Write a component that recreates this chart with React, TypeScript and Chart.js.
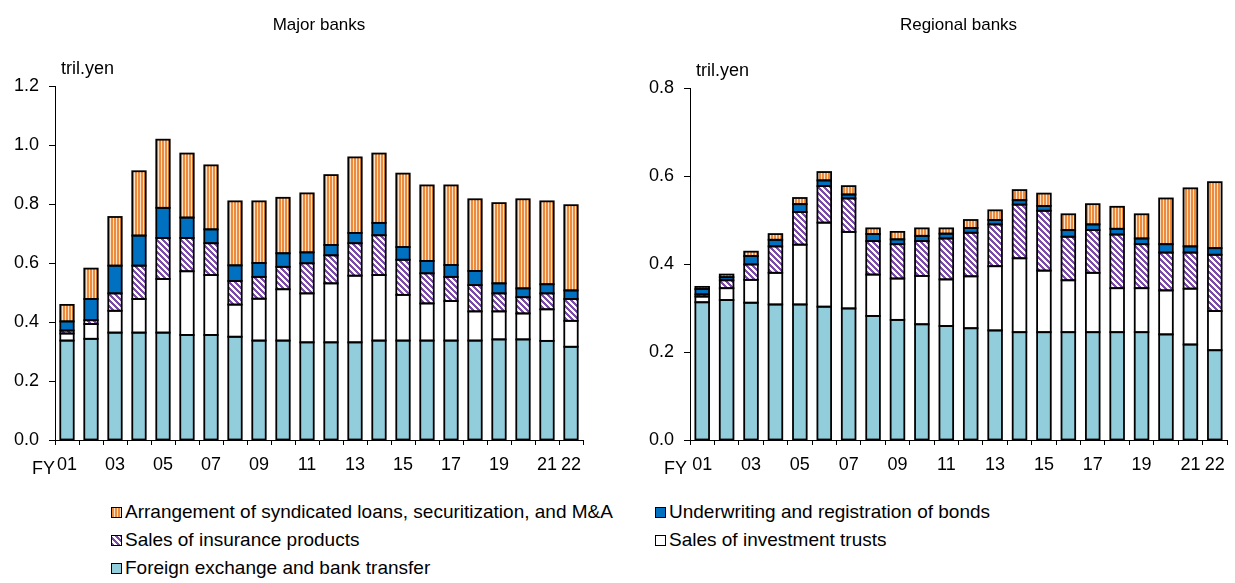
import React, { useEffect, useRef } from 'react';
import { Chart, registerables } from 'chart.js';

Chart.register(...registerables);

// ---------- data ----------
const years = ['01', '02', '03', '04', '05', '06', '07', '08', '09', '10', '11', '12', '13', '14', '15', '16', '17', '18', '19', '20', '21', '22'];
const shownYearLabels = ['01', '03', '05', '07', '09', '11', '13', '15', '17', '19', '21', '22'];

const seriesNames = [
  'Foreign exchange and bank transfer',
  'Sales of investment trusts',
  'Sales of insurance products',
  'Underwriting and registration of bonds',
  'Arrangement of syndicated loans, securitization, and M&A',
];

// Major banks (tril. yen)
const majorForeign = [0.337, 0.343, 0.364, 0.364, 0.364, 0.356, 0.356, 0.350, 0.337, 0.337, 0.331, 0.331, 0.331, 0.337, 0.337, 0.337, 0.337, 0.337, 0.341, 0.341, 0.336, 0.316];
const majorTrusts = [0.024, 0.050, 0.074, 0.114, 0.182, 0.216, 0.203, 0.109, 0.142, 0.174, 0.166, 0.200, 0.226, 0.222, 0.155, 0.126, 0.134, 0.099, 0.095, 0.088, 0.107, 0.088];
const majorInsurance = [0.010, 0.013, 0.059, 0.113, 0.139, 0.113, 0.108, 0.080, 0.074, 0.076, 0.102, 0.095, 0.110, 0.135, 0.119, 0.102, 0.082, 0.089, 0.061, 0.055, 0.054, 0.074];
const majorBonds = [0.031, 0.072, 0.094, 0.102, 0.102, 0.069, 0.047, 0.053, 0.047, 0.046, 0.037, 0.035, 0.035, 0.042, 0.043, 0.042, 0.040, 0.048, 0.034, 0.030, 0.031, 0.029];
const majorArrangement = [0.056, 0.103, 0.165, 0.218, 0.231, 0.217, 0.217, 0.217, 0.209, 0.188, 0.200, 0.237, 0.256, 0.235, 0.249, 0.256, 0.270, 0.243, 0.272, 0.302, 0.281, 0.289];

// Regional banks (tril. yen)
const regionalForeign = [0.313, 0.318, 0.312, 0.308, 0.308, 0.303, 0.299, 0.282, 0.273, 0.263, 0.259, 0.254, 0.249, 0.245, 0.245, 0.245, 0.245, 0.245, 0.245, 0.240, 0.217, 0.204];
const regionalTrusts = [0.013, 0.027, 0.052, 0.072, 0.136, 0.191, 0.174, 0.094, 0.094, 0.110, 0.106, 0.118, 0.146, 0.168, 0.140, 0.118, 0.135, 0.100, 0.100, 0.100, 0.127, 0.089];
const regionalInsurance = [0.005, 0.018, 0.035, 0.060, 0.074, 0.083, 0.076, 0.076, 0.078, 0.079, 0.093, 0.099, 0.095, 0.122, 0.136, 0.099, 0.097, 0.122, 0.100, 0.086, 0.082, 0.128];
const regionalBonds = [0.012, 0.007, 0.019, 0.015, 0.018, 0.013, 0.009, 0.016, 0.011, 0.012, 0.011, 0.011, 0.010, 0.010, 0.011, 0.015, 0.013, 0.013, 0.013, 0.019, 0.014, 0.015];
const regionalArrangement = [0.005, 0.006, 0.010, 0.013, 0.014, 0.019, 0.019, 0.013, 0.017, 0.017, 0.012, 0.018, 0.022, 0.023, 0.028, 0.036, 0.046, 0.050, 0.055, 0.104, 0.132, 0.150];

// ---------- styles ----------
const FONT = '"Liberation Sans", Arial, sans-serif';
const TICK_SIZE = 18;
const TITLE_SIZE = 17;
const LEGEND_SIZE = 19;
const LIGHT_BLUE = '#92CDDC';
const BLUE = '#0070C0';
const PURPLE = '#7B4BA8';
const ORANGE = '#EE8A3C';
const ORANGE_LIGHT = '#FCE1C6';

function makeStripePattern(): CanvasPattern | string {
  const c = document.createElement('canvas');
  c.width = 3; c.height = 4;
  const g = c.getContext('2d');
  if (!g) return ORANGE;
  g.fillStyle = ORANGE; g.fillRect(0, 0, 3, 4);
  g.fillStyle = ORANGE_LIGHT; g.fillRect(2, 0, 1, 4);
  return g.createPattern(c, 'repeat') || ORANGE;
}

function makeDiagPattern(): CanvasPattern | string {
  const n = 6;
  const c = document.createElement('canvas');
  c.width = n; c.height = n;
  const g = c.getContext('2d');
  if (!g) return PURPLE;
  const img = g.createImageData(n, n);
  for (let y = 0; y < n; y++) {
    for (let x = 0; x < n; x++) {
      const k = (((x - y) % n) + n) % n;
      const i = (y * n + x) * 4;
      const purple = k < 3;
      img.data[i] = purple ? 0x7b : 255;
      img.data[i + 1] = purple ? 0x4b : 255;
      img.data[i + 2] = purple ? 0xa8 : 255;
      img.data[i + 3] = 255;
    }
  }
  g.putImageData(img, 0, 0);
  return g.createPattern(c, 'repeat') || PURPLE;
}

type ChartSpec = {
  title: string;
  max: number;
  foreign: number[];
  trusts: number[];
  insurance: number[];
  bonds: number[];
  arrangement: number[];
  padTop: number;
  padRight: number;
  yWidth: number;
  fyGap: number;
};

// Excel-like outline: a line centred on every segment edge
const outlinePlugin = {
  id: 'segmentOutline',
  afterDatasetsDraw(chart: any) {
    const ctx = chart.ctx;
    ctx.save();
    ctx.strokeStyle = '#000';
    ctx.lineWidth = 1.8;
    chart.data.datasets.forEach((_d: any, di: number) => {
      const meta = chart.getDatasetMeta(di);
      meta.data.forEach((el: any) => {
        const p = el.getProps(['x', 'y', 'base', 'width'], true);
        const top = Math.min(p.y, p.base);
        const h = Math.abs(p.base - p.y);
        ctx.strokeRect(p.x - p.width / 2, top, p.width, h);
      });
    });
    ctx.restore();
  },
};

function BankChart({ spec, left, width }: { spec: ChartSpec; left: number; width: number }) {
  const ref = useRef<HTMLCanvasElement | null>(null);
  useEffect(() => {
    if (!ref.current) return;
    const stripe = makeStripePattern();
    const diag = makeDiagPattern();
    const fills = [LIGHT_BLUE, '#FFFFFF', diag, BLUE, stripe];
    const values = [spec.foreign, spec.trusts, spec.insurance, spec.bonds, spec.arrangement];

    const textPlugin = {
      id: 'extraTexts',
      afterDraw(chart: any) {
        const { ctx, chartArea } = chart;
        ctx.save();
        ctx.fillStyle = '#000';
        ctx.textBaseline = 'middle';
        ctx.font = `${TITLE_SIZE}px ${FONT}`;
        ctx.textAlign = 'center';
        ctx.fillText(spec.title, (chartArea.left + chartArea.right) / 2, 25);
        ctx.font = `${TICK_SIZE}px ${FONT}`;
        ctx.textAlign = 'left';
        ctx.fillText('tril.yen', chartArea.left + 6, chartArea.top - 17);
        ctx.textAlign = 'right';
        ctx.fillText('FY', chartArea.left - spec.fyGap, chartArea.bottom + 29);
        ctx.restore();
      },
    };

    const chart = new Chart(ref.current, {
      type: 'bar',
      data: {
        labels: years,
        datasets: values.map((v, i) => ({
          label: seriesNames[i],
          data: v,
          backgroundColor: fills[i] as any,
          borderWidth: 0,
          barPercentage: 0.56,
          categoryPercentage: 1.0,
        })),
      },
      options: {
        animation: false,
        responsive: false,
        devicePixelRatio: 1,
        layout: { padding: { top: spec.padTop, right: spec.padRight, bottom: 20, left: 0 } },
        plugins: { legend: { display: false }, tooltip: { enabled: false }, title: { display: false } },
        scales: {
          x: {
            stacked: true,
            afterFit: (s: any) => { s.height = 40; },
            border: { display: true, color: '#000', width: 1 },
            grid: { display: true, offset: true, drawOnChartArea: false, drawTicks: true, tickLength: 5, color: '#000' },
            ticks: {
              autoSkip: false,
              maxRotation: 0,
              minRotation: 0,
              padding: 9,
              color: '#000',
              font: { family: FONT, size: TICK_SIZE },
              callback: (_v: any, i: number) => (shownYearLabels.includes(years[i]) ? years[i] : ''),
            },
          },
          y: {
            stacked: true,
            min: 0,
            max: spec.max,
            afterFit: (s: any) => { s.width = spec.yWidth; },
            border: { display: true, color: '#000', width: 1 },
            grid: { display: true, drawOnChartArea: false, drawTicks: true, tickLength: 6, color: '#000' },
            ticks: {
              stepSize: 0.2,
              padding: 10,
              color: '#000',
              font: { family: FONT, size: TICK_SIZE },
              callback: (v: any) => Number(v).toFixed(1),
            },
          },
        },
      },
      plugins: [outlinePlugin, textPlugin],
    });
    return () => chart.destroy();
  }, [spec]);
  return (
    <canvas
      ref={ref}
      width={width}
      height={500}
      style={{ position: 'absolute', left, top: 0, width, height: 500 }}
    />
  );
}

const majorSpec: ChartSpec = {
  title: 'Major banks', max: 1.2,
  foreign: majorForeign, trusts: majorTrusts, insurance: majorInsurance, bonds: majorBonds, arrangement: majorArrangement,
  padTop: 86, padRight: 17, yWidth: 55, fyGap: 0,
};
const regionalSpec: ChartSpec = {
  title: 'Regional banks', max: 0.8,
  foreign: regionalForeign, trusts: regionalTrusts, insurance: regionalInsurance, bonds: regionalBonds, arrangement: regionalArrangement,
  padTop: 88, padRight: 8, yWidth: 90, fyGap: 3,
};

const swatchStyles: Record<string, React.CSSProperties> = {
  arrangement: { background: `repeating-linear-gradient(90deg, ${ORANGE} 0 2px, ${ORANGE_LIGHT} 2px 3px)` },
  bonds: { background: BLUE },
  insurance: { background: `repeating-linear-gradient(45deg, ${PURPLE} 0 2px, #fff 2px 4px)` },
  trusts: { background: '#fff' },
  foreign: { background: LIGHT_BLUE },
};

const legendItems: { key: string; text: string; x: number; y: number }[] = [
  { key: 'arrangement', text: seriesNames[4], x: 111, y: 512 },
  { key: 'bonds', text: seriesNames[3], x: 655, y: 512 },
  { key: 'insurance', text: seriesNames[2], x: 111, y: 540 },
  { key: 'trusts', text: seriesNames[1], x: 655, y: 540 },
  { key: 'foreign', text: seriesNames[0], x: 111, y: 568 },
];

export default function App() {
  return (
    <div style={{ position: 'absolute', left: 0, top: 0, width: 1235, height: 583, background: '#fff', overflow: 'hidden', fontFamily: FONT }}>
      <BankChart spec={majorSpec} left={0} width={600} />
      <BankChart spec={regionalSpec} left={600} width={635} />
      {legendItems.map((it) => (
        <div
          key={it.key}
          style={{ position: 'absolute', left: it.x, top: it.y - 12, height: 24, display: 'flex', alignItems: 'center', fontSize: LEGEND_SIZE, color: '#000', whiteSpace: 'nowrap' }}
        >
          <span style={{ display: 'inline-block', width: 9, height: 9, border: '1px solid #000', marginRight: 3, ...swatchStyles[it.key] }} />
          <span>{it.text}</span>
        </div>
      ))}
    </div>
  );
}
